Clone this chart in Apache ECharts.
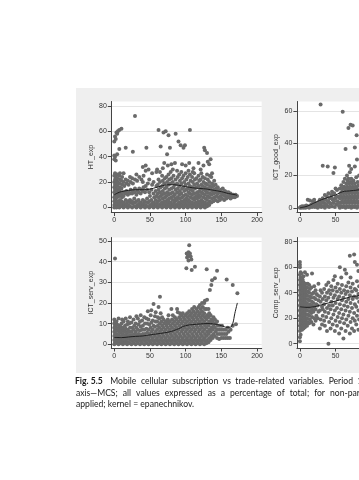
<!DOCTYPE html>
<html><head><meta charset="utf-8">
<script src="https://cdn.jsdelivr.net/npm/echarts@6/dist/echarts.min.js"></script>
<style>html,body{margin:0;padding:0;background:#fff;overflow:hidden;width:359px;height:480px}#c{width:470px;height:480px}</style>
</head><body><div id="c"></div><script>
// ---------- DATA ----------
const xTickValues = [0, 50, 100, 150, 200];
const htTicks = [0, 20, 40, 60, 80];
const ictGoodTicks = [0, 20, 40, 60];
const ictServTicks = [0, 10, 20, 30, 40, 50];
const compServTicks = [0, 20, 40, 60, 80];
const yTitles = ['HT_exp', 'ICT_good_exp', 'ICT_serv_exp', 'Comp_serv_exp'];

const htPts = [
[0,0],[1,1],[0,2],[1,3],[0,5],[1,6],[0,8],[1,10],[0,12],[1,14],[0,16],[1,18],[0,20],[1,22],[0,25],[1,27],[0,38],[1,40],[0,41],[0,52],[1,56],
[3,0],[2,2],[3,4],[2,7],[3,9],[2,11],[3,13],[2,15],[3,17],[2,19],[3,21],[2,24],[3,26],[2,37],[2,54],[3,59],
[5,1],[4,3],[5,5],[4,8],[5,10],[4,12],[5,14],[4,17],[5,20],[4,23],[5,26],[4,42],[4,58],[5,60],
[7,0],[8,2],[7,4],[8,6],[7,9],[8,11],[7,13],[8,16],[7,19],[8,22],[7,25],[8,27],[7,46],[7,61],
[10,1],[11,3],[10,5],[11,8],[10,10],[11,12],[10,15],[11,18],[10,21],[11,24],[10,62],
[13,0],[14,2],[13,4],[13,9],[14,12],[14,17],[13,20],[13,27],
[16,1],[17,3],[16,6],[16,11],[17,13],[17,19],[16,22],[16,47],
[19,0],[20,2],[19,5],[19,10],[20,12],[20,18],[19,21],
[22,1],[23,4],[22,6],[22,11],[23,14],[23,20],[22,24],
[25,0],[26,3],[25,5],[25,11],[26,13],[26,19],[25,23],[26,44],
[28,1],[29,4],[28,7],[28,12],[29,15],[29,22],[29,72],
[31,0],[32,2],[31,5],[31,10],[32,13],[32,21],[31,26],
[34,1],[35,3],[34,6],[34,12],[35,15],[35,24],
[37,0],[38,2],[37,4],[37,11],[38,14],[38,22],
[40,1],[41,3],[40,6],[40,13],[41,16],[40,20],[41,25],[40,32],
[43,0],[44,2],[43,5],[43,12],[44,17],[44,29],[44,33],
[46,1],[47,4],[46,7],[46,14],[47,19],[45,47],
[49,0],[50,2],[49,5],[50,9],[49,12],[49,22],[48,30],
[52,1],[53,3],[52,6],[52,14],[53,18],[53,27],
[55,0],[56,2],[55,4],[56,8],[55,11],[55,20],
[58,1],[59,3],[58,6],[59,9],[58,13],[59,17],[59,28],
[61,0],[62,2],[61,5],[62,8],[61,11],[62,14],[61,18],[62,22],[60,30],[62,61],
[64,1],[65,3],[64,6],[65,9],[64,12],[65,16],[64,20],[64,28],[65,48],
[67,0],[68,2],[67,4],[68,7],[67,10],[68,13],[67,17],[68,21],[67,25],[68,31],
[70,1],[71,3],[70,5],[71,8],[70,11],[71,15],[70,19],[71,23],[70,35],[69,59],
[73,0],[74,2],[73,4],[74,6],[73,9],[74,12],[73,16],[74,20],[73,24],[75,33],[72,60],[74,42],
[76,1],[77,3],[76,5],[77,7],[76,10],[77,14],[76,18],[77,22],[76,26],[76,57],
[79,0],[80,2],[79,4],[80,8],[79,11],[80,15],[79,19],[80,23],[79,28],[80,34],[78,47],
[82,1],[83,3],[82,6],[83,9],[82,12],[83,16],[82,20],[83,25],[82,30],
[85,0],[86,2],[85,5],[86,7],[85,10],[86,14],[85,18],[86,22],[85,35],[86,58],
[88,1],[89,3],[88,6],[89,8],[88,12],[89,15],[88,19],[89,24],[88,29],
[91,0],[92,2],[91,4],[92,7],[91,10],[92,13],[91,17],[92,21],[91,26],[90,52],
[94,1],[95,3],[94,5],[95,8],[94,11],[95,15],[94,19],[95,23],[94,28],[95,34],[93,49],
[97,0],[98,2],[97,4],[98,6],[97,9],[98,13],[97,16],[98,20],[97,25],[97,47],
[100,1],[101,3],[100,5],[101,7],[100,10],[101,14],[100,18],[101,22],[100,27],[100,33],[99,49],
[103,0],[104,2],[103,4],[104,6],[103,9],[104,12],[103,15],[104,19],[103,24],[104,29],
[106,1],[107,3],[106,5],[107,8],[106,11],[107,14],[106,17],[107,21],[106,26],[105,35],[106,61],
[109,0],[110,2],[109,4],[110,7],[109,10],[110,13],[109,16],[110,20],[109,24],[110,28],
[112,1],[113,3],[112,6],[113,8],[112,11],[113,15],[112,18],[113,22],[112,27],[111,31],
[115,0],[116,2],[115,4],[116,7],[115,9],[116,12],[115,16],[116,19],[115,23],
[118,1],[119,3],[118,5],[119,8],[118,10],[119,13],[118,17],[119,21],[118,25],[118,35],
[121,0],[122,2],[121,4],[122,6],[121,9],[122,12],[121,15],[122,18],[121,22],[122,27],[121,30],
[124,1],[125,3],[124,5],[125,8],[124,11],[125,14],[124,17],[125,20],[124,24],[125,33],
[127,0],[128,2],[127,4],[128,7],[127,10],[128,13],[127,16],[128,19],[127,23],[126,47],[127,45],
[130,1],[131,3],[130,6],[131,9],[130,12],[131,15],[130,18],[131,22],[130,26],[131,36],[130,43],
[133,2],[134,5],[133,8],[134,11],[133,14],[134,17],[133,20],[134,25],[133,34],[135,38],
[136,4],[137,7],[136,10],[137,13],[136,16],[137,19],[136,24],[137,27],
[139,5],[140,8],[139,11],[140,14],[139,17],[140,21],
[142,6],[143,9],[142,12],[143,15],[142,18],
[145,5],[146,8],[145,11],[146,13],[145,16],
[148,6],[149,9],[148,12],[149,14],
[151,7],[152,10],[151,12],[152,15],
[154,6],[155,9],[154,11],[155,13],
[157,7],[158,9],[157,12],
[160,8],[161,10],[160,12],
[163,7],[164,9],[163,11],
[166,8],[167,10],[169,8],[170,10],[172,9]
];
const htFit = [[0,10],[5,11.5],[10,12.5],[20,13.5],[30,14],[40,14],[50,14.5],[60,16],[70,17.5],[80,18],[90,17.5],[100,16.5],[110,15.5],[120,15],[130,14.5],[140,13.5],[150,12.5],[160,11],[170,10],[172,9.5]];

const ictGoodPts = [
[0,0],[1,0.5],[2,0],[3,1],[4,0.5],[5,0],[6,1],[7,0.5],[8,0],[9,1.5],[10,0.5],[11,5],[12,1],[13,0],[14,4.5],[15,1],[16,2],[17,0.5],[18,4],[19,1.5],[20,5],[21,0.5],[22,3],[23,1],[24,2],
[25,0],[26,3],[27,1],[28,5],[29,2],[30,0.5],[31,4],[32,6],[33,1],[34,3],[35,0],[36,5],[37,2],[38,7],[39,1],[40,4],[41,0.5],[42,6],[43,2.5],[44,8],[45,1],[46,5],[47,3],[48,9],[49,0.5],[50,6],[51,2],[52,11],[53,4],[54,7],[55,1],
[27,4],[30,3],[33,5],[36,2],[39,4],[42,3],[45,6],[48,4],[51,7],[54,3],[35,8],[45,10],[50,12],[40,9],
[56,0],[57,3],[56,6],[57,9],[56,12],[58,1],[59,4],[58,7],[59,10],[58,14],[60,0.5],[61,3],[60,6],[61,9],[60,12],[61,16],
[62,1],[63,4],[62,7],[63,10],[62,13],[63,18],[64,0],[65,3],[64,6],[65,9],[64,12],[65,15],[66,1],[67,4],[66,7],[67,10],[66,13],[67,17],
[68,0.5],[69,3],[68,6],[69,9],[68,12],[69,15],[68,18],[70,1],[71,4],[70,7],[71,10],[70,13],[71,16],[72,18],[72,0],[73,3],[72,6],[73,9],[72,12],[73,15],
[74,1],[75,4],[74,7],[75,10],[74,13],[75,17],[76,0.5],[77,3],[76,6],[77,9],[76,12],[77,15],[78,1],[79,4],[78,7],[79,10],[78,13],[79,19],
[80,0],[81,3],[80,6],[81,9],[80,12],[81,16],[82,1],[83,4],[82,7],[83,11],[82,14],[83,20],
[29,64],[60,59.5],[68,49.5],[71,51.5],[74,51],[79.5,45],[64,36.4],[77,37.4],[32,26],[39,25.6],[49,25],[47,21.6],[69,26],[72,24],[77,25.6],[80,30],[66,20],[70,22]
];
const ictGoodFit = [[0,0],[10,1],[20,3],[30,5],[40,6.5],[50,8],[60,10],[70,10.5],[80,11],[90,11.5],[100,12]];

const ictServPts = [
[0,0],[1,1],[0,2],[1,3],[0,4],[1,5],[0,6],[1,7],[0,8],[1,9],[0,10],[1,11],[0,12],[1,41.5],
[3,0.5],[4,1.5],[3,2.5],[4,3.5],[3,5],[4,6.5],[3,8],[4,9.5],[3,11],
[6,0],[7,1],[6,2],[7,3],[6,4.5],[7,6],[6,7.5],[7,9],[6,12.5],
[9,0.5],[10,1.5],[9,2.5],[10,4],[9,5.5],[10,7],[9,8.5],[10,10],[11,12],
[12,0],[13,1],[12,2],[13,3.5],[12,5],[13,6.5],[12,8],[13,11],
[15,0.5],[16,1.5],[15,3],[16,4.5],[15,6],[16,7.5],[15,9],[16,12.5],
[18,0],[19,1],[18,2.5],[19,4],[18,5.5],[19,7],[18,9.5],[19,11],
[21,0.5],[22,2],[21,3],[22,4.5],[21,6],[22,8],[21,10],[22,13],
[24,0],[25,1.5],[24,3],[25,4.5],[24,6],[25,8],[24,10.5],
[27,0.5],[28,2],[27,3.5],[28,5],[27,7],[28,9],[27,12],
[30,0],[31,1.5],[30,3],[31,4.5],[30,6],[31,8],[30,10],[31,13.5],
[33,0.5],[34,2],[33,3.5],[34,5],[33,7],[34,9.5],[33,12.5],
[36,0],[37,1.5],[36,3],[37,4.5],[36,6.5],[37,8.5],[36,11],[37,14],
[39,0.5],[40,2],[39,3.5],[40,5],[39,7],[40,9],[39,11.5],
[42,0],[43,1.5],[42,3],[43,5],[42,7],[43,10],[42,13],
[45,0.5],[46,2],[45,3.5],[46,5.5],[45,7.5],[46,10],[45,12.5],[47,16],
[48,0],[49,1.5],[48,3],[49,5],[48,7],[49,9.5],[48,12],
[51,0.5],[52,2],[51,4],[52,6],[51,8],[52,10.5],[51,14],[52,16.5],
[54,0],[55,1.5],[54,3],[55,5],[54,7],[55,9],[54,11.5],[55,19.5],
[57,0.5],[58,2],[57,4],[58,6],[57,8.5],[58,11],[57,13.5],[58,15.5],
[60,0],[61,1.5],[60,3],[61,5],[60,7],[61,9],[60,11],[61,13],[62,18],
[63,0.5],[64,2],[63,4],[64,6],[63,8],[64,10],[63,12.5],[64,23],[65,15],
[66,0],[67,1.5],[66,3],[67,5],[66,7],[67,9],[66,11],[67,13],
[69,0.5],[70,2],[69,4],[70,6],[69,8],[70,10],[69,12],
[72,0],[73,1.5],[72,3],[73,5],[72,7],[73,9],[72,11],[73,10.5],
[75,0.5],[76,2],[75,4],[76,6],[75,8],[76,10],[75,12],[76,14],
[78,0],[79,1.5],[78,3],[79,5],[78,7],[79,9],[78,11],[80,17],
[81,0.5],[82,2],[81,4],[82,6],[81,8],[82,10],[81,12],[82,14],
[84,0],[85,1.5],[84,3],[85,5],[84,7],[85,9],[84,11],[85,13],
[87,0.5],[88,2],[87,4],[88,6],[87,8],[88,10],[87,12],[88,17],[89,15.5],
[90,0],[91,1.5],[90,3],[91,5],[90,7],[91,9],[90,11],[91,13],[92,15],
[93,0.5],[94,2],[93,4],[94,6],[93,8],[94,10],[93,12],[94,14],
[96,0],[97,1.5],[96,3],[97,5],[96,7],[97,9],[96,11],[97,13],[96,15],
[99,0.5],[100,2],[99,4],[100,6],[99,8],[100,10],[99,12],[100,14],[101,36.8],
[102,0],[103,1.5],[102,3],[103,5],[102,7],[103,9],[102,11],[103,13],[102,15],[105,48],[101.5,44],[102,42],[104,40.5],
[105,0.5],[106,2],[105,4],[106,6],[105,8],[106,10],[105,12],[106,14],[105,16],[104,44.5],[105,43],[106,44],[107,42.5],[103,43.5],[108,41],
[108,0],[109,1.5],[108,3],[109,5],[108,7],[109,9],[108,11],[109,13],[108,15],[109,17],
[111,0.5],[112,2],[111,4],[112,6],[111,8],[112,10],[111,12],[112,14],[111,16],[112,18],[108.5,36],[113,37.5],
[114,0],[115,1.5],[114,3],[115,5],[114,7],[115,9],[114,11],[115,13],[114,15],[115,17],
[117,0.5],[118,2],[117,4],[118,6],[117,8],[118,10],[117,12],[118,14],[117,16],[118,18],
[120,0],[121,1.5],[120,3],[121,5],[120,7],[121,9],[120,11],[121,13],[120,15],[121,17],[120,19],
[123,0.5],[124,2],[123,4],[124,6],[123,8],[124,10],[123,12],[124,14],[123,16],[124,18],[123,20],
[126,0],[127,1.5],[126,3],[127,5],[126,7],[127,9],[126,11],[127,13],[126,15],[127,17],[126,20],[127,21],
[129,0.5],[130,2],[129,4],[130,6],[129,8],[130,10],[129,12],[130,14],[129,17],[130,21.5],[129.5,36.3],
[132,1],[133,3],[132,5],[133,7],[132,9],[133,11],[132,13],[133,15],[132,17],
[135,2],[136,4],[135,6],[136,8],[135,10],[136,12],[135,14],[134,26.3],[136,28.7],
[138,3],[139,5],[138,7],[139,9],[138,11],[139,13],[137,31],[141,32],
[141,4],[142,6],[141,8],[142,10],[141,12],
[144,3],[145,5],[144,7],[145,9],[144,11],[144,35.6],
[147,2.5],[148,5],[147,7],[148,9],
[150,3],[151,5],[150,7],[151,9],[157.5,31.4],
[153,3],[154,5],[153,7],
[156,3],[157,5],[156,7],
[159,3],[160,6],[159,8],
[162,3],[163,7],[166,28.7],
[166,9],[170.5,9.7],[172.5,24.7]
];
const ictServFit = [[0,3.3],[10,3.2],[20,3.5],[30,3.8],[40,4],[50,4.5],[60,5],[70,5.5],[80,6.2],[90,7.5],[100,9],[110,9.5],[120,9.8],[130,10],[140,9.8],[150,9],[158,8.2],[163,8.3],[166,10],[169,15],[172.5,20]];

const compServPts = [
[0,2],[0,5],[1,7],[0,10],[1,12],[0,14],[1,16],[0,18],[1,20],[0,22],[1,24],[0,26],[1,28],[0,30],[1,32],[0,34],[1,36],[0,38],[1,40],[0,42],[1,44],[0,46],[1,48],[0,50],[1,52],[0,54],[1,56],[0,60],[0,62],[0,64],
[3,11],[2,13],[3,15],[2,17],[3,19],[2,21],[3,23],[2,25],[3,27],[2,29],[3,31],[2,33],[3,35],[2,37],[3,39],[2,41],[3,43],[2,45],[3,47],[2,49],[3,51],[2,55],
[5,12],[4,14],[5,16],[4,18],[5,20],[4,22],[5,24],[4,26],[5,28],[4,30],[5,32],[4,34],[5,36],[4,38],[5,40],[4,42],[5,44],[4,46],[5,48],[4,50],[5,53],
[7,13],[8,15],[7,17],[8,19],[7,21],[8,23],[7,25],[8,27],[7,29],[8,31],[7,33],[8,35],[7,37],[8,39],[7,41],[8,43],[7,45],[8,47],[7,56],
[10,14],[11,17],[10,20],[11,23],[10,26],[11,29],[10,32],[11,35],[10,38],[11,41],[10,44],[11,47],[10,54],
[13,16],[14,19],[13,22],[14,25],[13,28],[14,31],[13,34],[14,37],[13,40],[14,43],[13,46],
[16,17],[17,21],[16,24],[17,27],[16,30],[17,33],[16,36],[17,39],[16,44],[17,55],
[19,15],[20,20],[19,25],[20,29],[19,32],[20,36],[19,40],[20,45],
[22,18],[23,22],[22,27],[23,31],[22,35],[23,39],[22,42],
[25,20],[26,25],[25,30],[26,34],[25,38],[26,47],
[28,12],[29,19],[28,26],[29,33],[28,37],[29,42],
[31,15],[32,22],[31,29],[32,35],[31,40],[32,27],
[34,18],[35,25],[34,31],[35,37],[34,43],[35,14],
[37,21],[38,28],[37,34],[38,40],[37,46],[38,10],
[40,0],[41,17],[40,24],[41,30],[40,36],[41,42],[40,48],
[43,12],[44,20],[43,27],[44,33],[43,39],[44,45],
[46,15],[47,23],[46,30],[47,36],[46,42],[47,50],
[49,10],[50,18],[49,26],[50,32],[49,38],[50,44],[49,53],
[52,14],[53,21],[52,28],[53,35],[52,41],[53,47],
[55,8],[56,17],[55,24],[56,31],[55,37],[56,43],[56,60],
[58,12],[59,20],[58,27],[59,34],[58,40],[59,46],[58,52],
[61,4],[62,16],[61,23],[62,30],[61,36],[62,42],[63,58],
[64,10],[65,19],[64,26],[65,33],[64,39],[65,45],[65,55],
[67,14],[68,22],[67,29],[68,35],[67,41],[68,48],[70,69],
[70,8],[71,17],[70,25],[71,32],[70,38],[71,44],[71,52],
[73,12],[74,20],[73,28],[74,35],[73,41],[74,47],[76,70],
[76,10],[77,18],[76,24],[77,31],[76,37],[77,43],[77,64],
[79,15],[80,22],[79,29],[80,36],[79,42],[80,49],[80,62],
[82,11],[83,19],[82,26],[83,33],[82,39],[83,45],[82,57]
];
const compServFit = [[0,29],[10,28.5],[20,29],[30,30.5],[40,32],[50,33.5],[60,35],[70,36.5],[80,37.5],[90,38.5],[100,39]];

const captionLine1 = ['Fig. 5.5', 'Mobile', 'cellular', 'subscription', 'vs', 'trade-related', 'variables.', 'Period', '1990–2014;', 'horizontal'];
const captionLine2 = ['axis—MCS;', 'all', 'values', 'expressed', 'as', 'a', 'percentage', 'of', 'total;', 'for', 'non-parametric', 'fit,'];
const captionLine3 = 'applied; kernel = epanechnikov.';

// ---------- LAYOUT ----------
const AX = '#444', LBL = '#333', FONT = '"Liberation Sans", Arial, sans-serif';
const panels = [
  {left:111.3, top:101.5, h:111, ymin:-3.94, ymax:83.5, ticks:htTicks, pts:htPts, fit:htFit},
  {left:296.9, top:101.5, h:111, ymin:-2.9, ymax:65.9, ticks:ictGoodTicks, pts:ictGoodPts, fit:ictGoodFit},
  {left:111.3, top:237.5, h:110.5, ymin:-1.84, ymax:51.7, ticks:ictServTicks, pts:ictServPts, fit:ictServFit},
  {left:296.9, top:237.5, h:110.5, ymin:-3.37, ymax:83.3, ticks:compServTicks, pts:compServPts, fit:compServFit}
];
const grids = [], xAxes = [], yAxes = [], series = [];
panels.forEach((p, i) => {
  grids.push({left:p.left, top:p.top, width:150.4, height:p.h, show:true, backgroundColor:'#ffffff', borderWidth:0, containLabel:false});
  xAxes.push({type:'value', gridIndex:i, min:-4.2, max:206.6,
    axisLine:{show:true, onZero:false, lineStyle:{color:AX, width:1}},
    axisTick:{show:true, length:3.5, customValues:xTickValues, lineStyle:{color:AX, width:1}},
    axisLabel:{customValues:xTickValues, fontSize:7, color:LBL, margin:4.5, fontFamily:FONT},
    splitLine:{show:false}});
  yAxes.push({type:'value', gridIndex:i, min:p.ymin, max:p.ymax,
    name:yTitles[i], nameLocation:'middle', nameGap:17, nameTextStyle:{fontSize:7, color:LBL, fontFamily:FONT},
    axisLine:{show:true, onZero:false, lineStyle:{color:AX, width:1}},
    axisTick:{show:true, length:3.5, customValues:p.ticks, lineStyle:{color:AX, width:1}},
    axisLabel:{customValues:p.ticks, fontSize:7, color:LBL, margin:4.5, fontFamily:FONT},
    splitLine:{show:false}});
  series.push({type:'line', xAxisIndex:i, yAxisIndex:i, data:[], silent:true, z:0,
    markLine:{silent:true, z:0, symbol:'none', animation:false, label:{show:false},
      lineStyle:{color:'#e4e4e4', width:1, type:'solid'},
      data:p.ticks.map(v => ({yAxis:v}))}});
  series.push({type:'scatter', xAxisIndex:i, yAxisIndex:i, data:p.pts, symbol:'circle', symbolSize:4,
    itemStyle:{color:'#6a6a6a', opacity:1}, silent:true, z:6, animation:false});
  series.push({type:'line', xAxisIndex:i, yAxisIndex:i, data:p.fit, showSymbol:false, smooth:0.4,
    lineStyle:{color:'#1e1e1e', width:1}, silent:true, z:7, animation:false});
});

// caption layout (justified lines)
const CAP_FONT = 'Lato, "Noto Sans", sans-serif', CAP_SIZE = 8.6;
const mctx = document.createElement('canvas').getContext('2d');
function tw(t, bold) { mctx.font = (bold ? 'bold ' : '') + CAP_SIZE + 'px ' + CAP_FONT; return mctx.measureText(t).width; }
function justify(words, x0, anchorIdx, anchorEnd, y, boldFirst, extraFirst) {
  extraFirst = extraFirst || 0;
  let w = 0;
  for (let i = 0; i <= anchorIdx; i++) w += tw(words[i], boldFirst && i === 0);
  const gap = (anchorEnd - x0 - w - extraFirst) / anchorIdx;
  const out = []; let x = x0;
  words.forEach((t, i) => {
    const b = !!boldFirst && i === 0;
    out.push({type:'text', x:x, y:y, silent:true, style:{text:t, fontSize:CAP_SIZE, fontFamily:CAP_FONT, fontWeight:b ? 'bold' : 'normal', fill:'#1a1a1a', verticalAlign:'middle'}});
    x += tw(t, b) + gap + (i === 0 ? extraFirst : 0);
  });
  return out;
}
const graphics = [{type:'rect', z:-10, silent:true, shape:{x:76, y:88, width:400, height:285}, style:{fill:'#efefef'}}]
  .concat(justify(captionLine1, 75, 7, 353, 381, true, 3))
  .concat(justify(captionLine2, 76, 9, 325, 393, false, 0))
  .concat([{type:'text', x:76, y:404.5, silent:true, style:{text:captionLine3, fontSize:CAP_SIZE, fontFamily:CAP_FONT, fill:'#1a1a1a', verticalAlign:'middle'}}]);

const chart = echarts.init(document.getElementById('c'), null, {renderer:'canvas'});
chart.setOption({
  animation:false, backgroundColor:'#ffffff',
  grid:grids, xAxis:xAxes, yAxis:yAxes, series:series,
  graphic:{elements:graphics}
});
</script></body></html>
